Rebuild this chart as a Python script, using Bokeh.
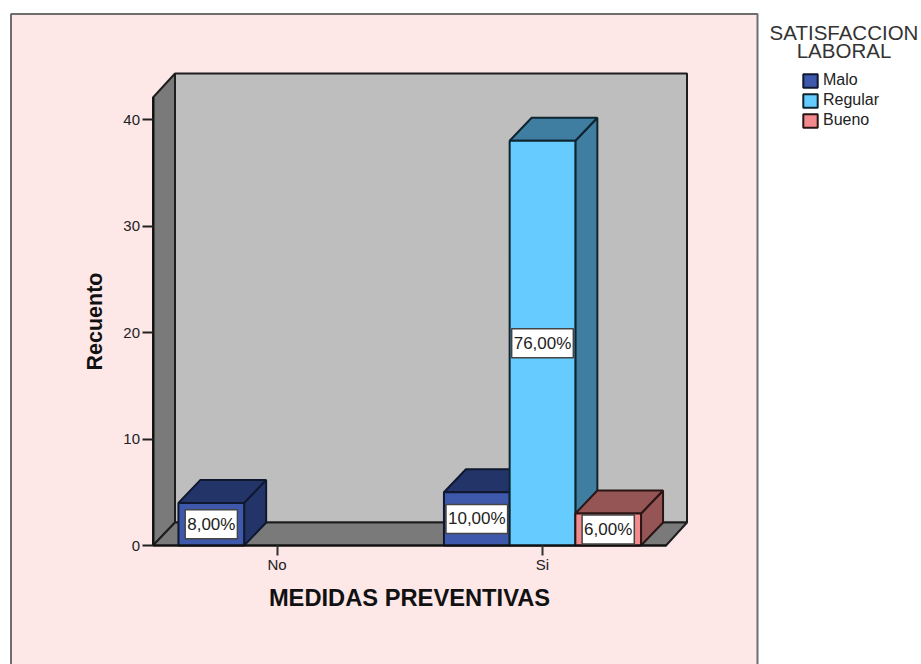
from math import pi
from bokeh.plotting import figure
from bokeh.models import FixedTicker, Label, Legend, LegendItem, Range1d
from bokeh.embed import file_html
from bokeh.resources import INLINE

categories = ["No", "Si"]
series_names = ["Malo", "Regular", "Bueno"]
malo = [4, 5]
regular = [0, 38]
bueno = [0, 3]
pct_malo = ["8,00%", "10,00%"]
pct_regular = ["", "76,00%"]
pct_bueno = ["", "6,00%"]
y_ticks = [0, 10, 20, 30, 40]
x_title = "MEDIDAS PREVENTIVAS"
y_title = "Recuento"
legend_title = ["SATISFACCION", "LABORAL"]

FRONT = ["#3E58AC", "#66CBFF", "#F28A8E"]
DARK = ["#233568", "#3F7EA1", "#955555"]
EDGE = ["#10182F", "#10242F", "#2A1515"]
FONT = "Liberation Sans"

# Pixel geometry of the reference
PX_X0, PX_PER_CAT = 276.5, 265.5
PX_Y0, PX_PER_UNIT = 545.0, 10.65
W, H = 921, 664


def X(px):
    return (px - PX_X0) / PX_PER_CAT


def Y(py):
    return (PX_Y0 - py) / PX_PER_UNIT


DX, DY = 22 / PX_PER_CAT, 23 / PX_PER_UNIT
BAR = 65.7 / PX_PER_CAT

p = figure(width=W, height=H, output_backend="svg", toolbar_location=None,
           x_range=Range1d(X(0), X(W)), y_range=Range1d(Y(H), Y(0)),
           min_border=0, background_fill_color="white", border_fill_color="white",
           outline_line_color=None)
p.grid.visible = False

# Panel
p.quad(left=X(10.5), right=X(757), top=Y(13.5), bottom=Y(H + 20),
       fill_color="#FDE7E7", line_color="#6E6E6E", line_width=2)

# Walls and floor
xl, xf, xb, xr = X(152.5), X(665.5), X(174.5), X(686.5)
yb, yfl, yt, yft = Y(545), Y(522), Y(73), Y(97)
p.quad(left=xb, right=xr, bottom=yfl, top=yt, fill_color="#BEBEBE", line_color="#1E1E1E", line_width=2)
p.patch([xl, xb, xb, xl], [yb, yfl, yt, yft], fill_color="#7A7A7A", line_color="#1E1E1E", line_width=2)
p.patch([xl, xf, xr, xb], [yb, yb, yfl, yfl], fill_color="#7A7A7A", line_color="#1E1E1E", line_width=2)

# Bars
fronts = []
all_series = [malo, regular, bueno]
all_pcts = [pct_malo, pct_regular, pct_bueno]
for k, vals in enumerate(all_series):
    offset = (k - 1) * BAR
    xs = [i + offset for i, v in enumerate(vals) if v > 0]
    hs = [v for v in vals if v > 0]
    tops_x, tops_y, side_x, side_y = [], [], [], []
    for xc, h in zip(xs, hs):
        a, b = xc - BAR / 2, xc + BAR / 2
        tops_x.append([a, b, b + DX, a + DX])
        tops_y.append([h, h, h + DY, h + DY])
        side_x.append([b, b + DX, b + DX, b])
        side_y.append([0, DY, h + DY, h])
    p.patches(side_x, side_y, fill_color=DARK[k], line_color=EDGE[k], line_width=2)
    p.patches(tops_x, tops_y, fill_color=DARK[k], line_color=EDGE[k], line_width=2)
    fronts.append(p.vbar(x=xs, top=hs, bottom=0, width=BAR, fill_color=FRONT[k],
                         line_color=EDGE[k], line_width=2))

for k, vals in enumerate(all_series):
    offset = (k - 1) * BAR
    for i, v in enumerate(vals):
        if v > 0:
            p.add_layout(Label(x=i + offset, y=v / 2, text=all_pcts[k][i],
                               text_align="center", text_baseline="middle", text_font=FONT,
                               text_font_size="17px", text_color="#222222",
                               background_fill_color="white", border_line_color="#444444",
                               border_line_width=1.5, padding=(2, 5)))

# Axes, fixed at the front edges of the floor and left wall
ax = p.xaxis[0]
ax.fixed_location = 0
ax.ticker = FixedTicker(ticks=list(range(len(categories))))
ax.major_label_overrides = {i: c for i, c in enumerate(categories)}
ax.bounds = (xl, xf)
ax.axis_line_color = "#111111"
ax.axis_line_width = 2
ax.major_tick_line_color = "#333333"
ax.major_tick_line_width = 2
ax.major_tick_out = 10
ax.major_tick_in = 0
ax.minor_tick_line_color = None
ax.major_label_text_font = FONT
ax.major_label_text_font_size = "15px"
ax.major_label_text_color = "#222222"
ax.major_label_standoff = 0

ay = p.yaxis[0]
ay.fixed_location = xl
ay.ticker = FixedTicker(ticks=y_ticks)
ay.bounds = (0, yft)
ay.axis_line_color = "#111111"
ay.axis_line_width = 2
ay.major_tick_line_color = "#222222"
ay.major_tick_line_width = 2
ay.major_tick_out = 11
ay.major_tick_in = 0
ay.minor_tick_line_color = None
ay.major_label_text_font = FONT
ay.major_label_text_font_size = "15px"
ay.major_label_text_color = "#222222"
ay.major_label_standoff = 2

# Axis titles (centred on the front face, not the frame)
p.add_layout(Label(x=X(409), y=Y(597), text=x_title, text_font=FONT, text_font_size="23.7px",
                   text_font_style="bold", text_align="center", text_baseline="middle",
                   text_color="#111111"))
p.add_layout(Label(x=X(94.5), y=Y(321), text=y_title, text_font=FONT, text_font_size="21.5px",
                   text_font_style="bold", text_align="center", text_baseline="middle",
                   angle=pi / 2, text_color="#111111"))

# Legend
for line, py in zip(legend_title, (31.5, 50)):
    p.add_layout(Label(x=X(843.5), y=Y(py), text=line, text_font=FONT, text_font_size="20.5px",
                       text_align="center", text_baseline="middle", text_color="#333333"))
legend = Legend(items=[LegendItem(label=n, renderers=[r]) for n, r in zip(series_names, fronts)],
                location=(801, H - 129), background_fill_alpha=0, border_line_color=None,
                label_text_font=FONT, label_text_font_size="16px", label_text_color="#222222",
                glyph_width=18, glyph_height=17, label_height=15, label_standoff=4, spacing=2,
                padding=5, margin=0)
p.add_layout(legend)

open("out.html", "w").write(file_html(p, INLINE))
